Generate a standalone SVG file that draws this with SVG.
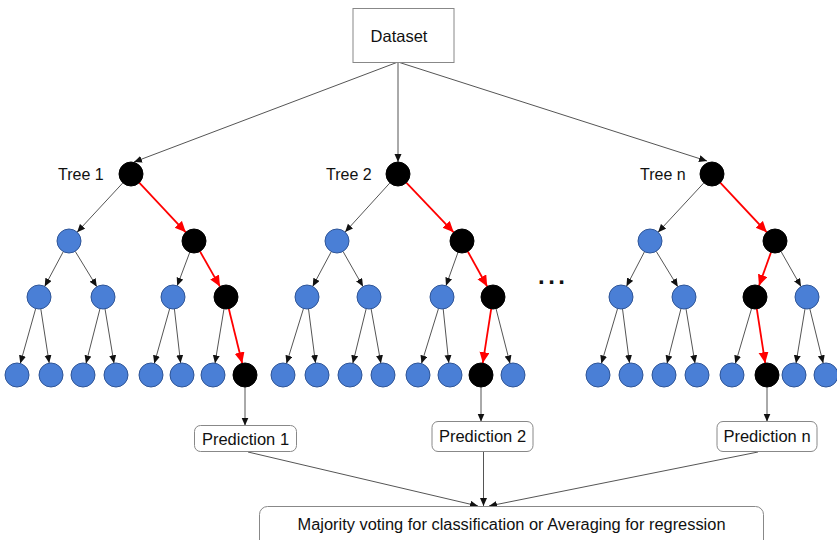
<svg xmlns="http://www.w3.org/2000/svg" width="837" height="540" viewBox="0 0 837 540">
<style>
.t{font-family:"Liberation Sans",Arial,sans-serif;fill:#111}
.g{stroke:#555;stroke-width:1;fill:none;marker-end:url(#ag)}
.r{stroke:#f00;stroke-width:1.8;fill:none;marker-end:url(#ar)}
.b{fill:#4a7fd6;stroke:#2f5597;stroke-width:1}
.k{fill:#000;stroke:#000;stroke-width:1}
.box{fill:#fff;stroke:#888;stroke-width:1}
</style>
<defs>
<marker id="ag" markerUnits="userSpaceOnUse" markerWidth="9" markerHeight="8" refX="8" refY="3.5" orient="auto"><path d="M0,0 L8,3.5 L0,7 z" fill="#111"/></marker>
<marker id="ar" markerUnits="userSpaceOnUse" markerWidth="12" markerHeight="11" refX="11" refY="5" orient="auto"><path d="M0,0 L11,5 L0,10 z" fill="#f00"/></marker>
</defs>
<rect width="837" height="540" fill="#fff"/>
<g id="connectors">
<line class="g" x1="398" y1="62" x2="134" y2="162"/>
<line class="g" x1="398" y1="62" x2="398" y2="162"/>
<line class="g" x1="398" y1="62" x2="707" y2="161"/>
<line class="g" x1="122.9" y1="182.8" x2="77.1" y2="232.2"/>
<line class="r" x1="139.2" y1="182.7" x2="185.8" y2="232.3"/>
<line class="g" x1="389.9" y1="182.9" x2="345.1" y2="232.1"/>
<line class="r" x1="406.3" y1="182.7" x2="453.7" y2="232.3"/>
<line class="g" x1="703.9" y1="182.8" x2="658.1" y2="232.2"/>
<line class="r" x1="720.2" y1="182.7" x2="766.8" y2="232.3"/>
<line class="g" x1="63.3" y1="251.6" x2="44.7" y2="286.4"/>
<line class="g" x1="75.2" y1="251.3" x2="96.8" y2="286.7"/>
<line class="g" x1="189.8" y1="252.2" x2="177.2" y2="285.8"/>
<line class="r" x1="200" y1="251.4" x2="220" y2="286.6"/>
<line class="g" x1="331.3" y1="251.6" x2="312.7" y2="286.4"/>
<line class="g" x1="343" y1="251.4" x2="363" y2="286.6"/>
<line class="g" x1="458" y1="252.3" x2="446" y2="285.7"/>
<line class="r" x1="467.8" y1="251.5" x2="487.2" y2="286.5"/>
<line class="g" x1="644.5" y1="251.7" x2="626.5" y2="286.3"/>
<line class="g" x1="656.2" y1="251.3" x2="677.8" y2="286.7"/>
<line class="r" x1="771" y1="252.3" x2="759" y2="285.7"/>
<line class="g" x1="781" y1="251.4" x2="801" y2="286.6"/>
<line class="g" x1="35.7" y1="308.6" x2="20.3" y2="363.4"/>
<line class="g" x1="40.8" y1="308.9" x2="49.2" y2="363.1"/>
<line class="g" x1="100" y1="308.6" x2="86" y2="363.4"/>
<line class="g" x1="105" y1="308.8" x2="114" y2="363.2"/>
<line class="g" x1="169.7" y1="308.6" x2="154.3" y2="363.4"/>
<line class="g" x1="174.4" y1="308.9" x2="180.6" y2="363.1"/>
<line class="g" x1="224" y1="308.8" x2="215" y2="363.2"/>
<line class="r" x1="228.8" y1="308.7" x2="242.2" y2="363.3"/>
<line class="g" x1="303.5" y1="308.5" x2="286.5" y2="363.5"/>
<line class="g" x1="308.5" y1="308.9" x2="315.5" y2="363.1"/>
<line class="g" x1="366.2" y1="308.7" x2="352.8" y2="363.3"/>
<line class="g" x1="371.1" y1="308.8" x2="380.9" y2="363.2"/>
<line class="g" x1="438.5" y1="308.5" x2="421.5" y2="363.5"/>
<line class="g" x1="443.2" y1="308.9" x2="448.8" y2="363.1"/>
<line class="r" x1="491.2" y1="308.9" x2="482.8" y2="363.1"/>
<line class="g" x1="496" y1="308.6" x2="510" y2="363.4"/>
<line class="g" x1="617.6" y1="308.5" x2="601.4" y2="363.5"/>
<line class="g" x1="622.5" y1="308.9" x2="629.5" y2="363.1"/>
<line class="g" x1="681" y1="308.6" x2="667" y2="363.4"/>
<line class="g" x1="686" y1="308.8" x2="695" y2="363.2"/>
<line class="g" x1="751.6" y1="308.5" x2="735.4" y2="363.5"/>
<line class="r" x1="756.8" y1="308.9" x2="765.2" y2="363.1"/>
<line class="g" x1="805" y1="308.8" x2="796" y2="363.2"/>
<line class="g" x1="809.8" y1="308.7" x2="823.2" y2="363.3"/>
<line class="g" x1="245" y1="387" x2="245" y2="425.5"/>
<line class="g" x1="481" y1="387" x2="481" y2="421.5"/>
<line class="g" x1="767" y1="387" x2="767" y2="421.5"/>
<line class="g" x1="248" y1="452" x2="478" y2="506"/>
<line class="g" x1="483.5" y1="452" x2="483.5" y2="506"/>
<line class="g" x1="758" y1="452" x2="489" y2="506"/>
</g>
<g id="dataset"><rect class="box" x="353" y="8.5" width="101" height="54"/><text class="t" x="399" y="42" font-size="16.5" text-anchor="middle">Dataset</text></g>
<g id="tree1-label"><text class="t" x="58" y="180" font-size="16">Tree 1</text></g>
<g id="tree2-label"><text class="t" x="326" y="180" font-size="16">Tree 2</text></g>
<g id="treen-label"><text class="t" x="640" y="180" font-size="16">Tree n</text></g>
<g id="ellipsis"><text class="t" x="538" y="284" font-size="24" font-weight="bold" letter-spacing="3.5" fill="#000">...</text></g>
<g id="t1-root"><circle class="k" cx="131" cy="174" r="12"/></g>
<g id="t1-l2a"><circle class="b" cx="69" cy="241" r="12"/></g>
<g id="t1-l2b"><circle class="k" cx="194" cy="241" r="12"/></g>
<g id="t1-l3a"><circle class="b" cx="39" cy="297" r="12"/></g>
<g id="t1-l3b"><circle class="b" cx="103" cy="297" r="12"/></g>
<g id="t1-l3c"><circle class="b" cx="173" cy="297" r="12"/></g>
<g id="t1-l3d"><circle class="k" cx="226" cy="297" r="12"/></g>
<g id="t1-l4a"><circle class="b" cx="17" cy="375" r="12"/></g>
<g id="t1-l4b"><circle class="b" cx="51" cy="375" r="12"/></g>
<g id="t1-l4c"><circle class="b" cx="83" cy="375" r="12"/></g>
<g id="t1-l4d"><circle class="b" cx="116" cy="375" r="12"/></g>
<g id="t1-l4e"><circle class="b" cx="151" cy="375" r="12"/></g>
<g id="t1-l4f"><circle class="b" cx="182" cy="375" r="12"/></g>
<g id="t1-l4g"><circle class="b" cx="213" cy="375" r="12"/></g>
<g id="t1-l4h"><circle class="k" cx="245" cy="375" r="12"/></g>
<g id="t2-root"><circle class="k" cx="398" cy="174" r="12"/></g>
<g id="t2-l2a"><circle class="b" cx="337" cy="241" r="12"/></g>
<g id="t2-l2b"><circle class="k" cx="462" cy="241" r="12"/></g>
<g id="t2-l3a"><circle class="b" cx="307" cy="297" r="12"/></g>
<g id="t2-l3b"><circle class="b" cx="369" cy="297" r="12"/></g>
<g id="t2-l3c"><circle class="b" cx="442" cy="297" r="12"/></g>
<g id="t2-l3d"><circle class="k" cx="493" cy="297" r="12"/></g>
<g id="t2-l4a"><circle class="b" cx="283" cy="375" r="12"/></g>
<g id="t2-l4b"><circle class="b" cx="317" cy="375" r="12"/></g>
<g id="t2-l4c"><circle class="b" cx="350" cy="375" r="12"/></g>
<g id="t2-l4d"><circle class="b" cx="383" cy="375" r="12"/></g>
<g id="t2-l4e"><circle class="b" cx="418" cy="375" r="12"/></g>
<g id="t2-l4f"><circle class="b" cx="450" cy="375" r="12"/></g>
<g id="t2-l4g"><circle class="k" cx="481" cy="375" r="12"/></g>
<g id="t2-l4h"><circle class="b" cx="513" cy="375" r="12"/></g>
<g id="tn-root"><circle class="k" cx="712" cy="174" r="12"/></g>
<g id="tn-l2a"><circle class="b" cx="650" cy="241" r="12"/></g>
<g id="tn-l2b"><circle class="k" cx="775" cy="241" r="12"/></g>
<g id="tn-l3a"><circle class="b" cx="621" cy="297" r="12"/></g>
<g id="tn-l3b"><circle class="b" cx="684" cy="297" r="12"/></g>
<g id="tn-l3c"><circle class="k" cx="755" cy="297" r="12"/></g>
<g id="tn-l3d"><circle class="b" cx="807" cy="297" r="12"/></g>
<g id="tn-l4a"><circle class="b" cx="598" cy="375" r="12"/></g>
<g id="tn-l4b"><circle class="b" cx="631" cy="375" r="12"/></g>
<g id="tn-l4c"><circle class="b" cx="664" cy="375" r="12"/></g>
<g id="tn-l4d"><circle class="b" cx="697" cy="375" r="12"/></g>
<g id="tn-l4e"><circle class="b" cx="732" cy="375" r="12"/></g>
<g id="tn-l4f"><circle class="k" cx="767" cy="375" r="12"/></g>
<g id="tn-l4g"><circle class="b" cx="794" cy="375" r="12"/></g>
<g id="tn-l4h"><circle class="b" cx="826" cy="375" r="12"/></g>
<g id="pred1"><rect class="box" x="194.5" y="425.5" width="102" height="26" rx="6"/><text class="t" x="245.5" y="444.5" font-size="16.5" text-anchor="middle">Prediction 1</text></g>
<g id="pred2"><rect class="box" x="432" y="421.5" width="101" height="30" rx="6"/><text class="t" x="482.5" y="442" font-size="16.5" text-anchor="middle">Prediction 2</text></g>
<g id="predn"><rect class="box" x="717" y="421.5" width="100" height="30" rx="6"/><text class="t" x="767" y="442" font-size="16.5" text-anchor="middle">Prediction n</text></g>
<g id="aggregate"><rect class="box" x="259.5" y="506.5" width="504" height="44" rx="8"/><text class="t" x="511.5" y="530" font-size="16" text-anchor="middle" textLength="428" lengthAdjust="spacingAndGlyphs">Majority voting for classification or Averaging for regression</text></g>
</svg>
